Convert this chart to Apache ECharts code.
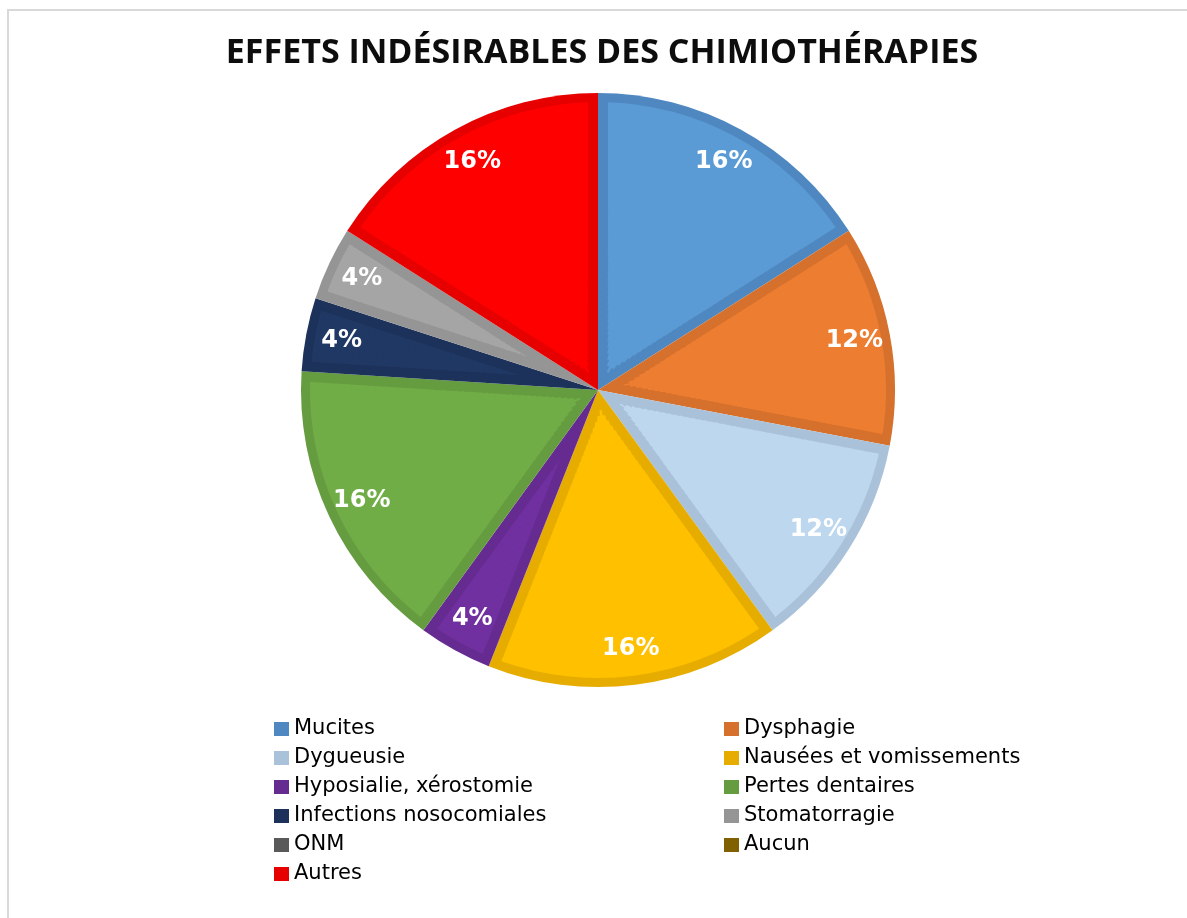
<!DOCTYPE html>
<html>
<head>
<meta charset="utf-8">
<title>Effets indésirables des chimiothérapies</title>
<script src="https://cdn.jsdelivr.net/npm/echarts@6/dist/echarts.min.js"></script>
<style>
    html, body { margin: 0; padding: 0; background: #ffffff; }
    #chart { width: 1187px; height: 918px; }
</style>
</head>
<body>
<div id="chart"></div>
<script>
    const categories = ['Mucites', 'Dysphagie', 'Dygueusie', 'Nausées et vomissements', 'Hyposialie, xérostomie',
        'Pertes dentaires', 'Infections nosocomiales', 'Stomatorragie', 'ONM', 'Aucun', 'Autres'];
    const percents = [16, 12, 12, 16, 4, 16, 4, 4, 0, 0, 16];
    const legendLeft = ['Mucites', 'Dygueusie', 'Hyposialie, xérostomie', 'Infections nosocomiales', 'ONM', 'Autres'];
    const legendRight = ['Dysphagie', 'Nausées et vomissements', 'Pertes dentaires', 'Stomatorragie', 'Aucun'];

    const fillColors = ['#5B9BD5', '#ED7D31', '#BDD7EE', '#FFC000', '#7030A0', '#70AD47', '#203864', '#A5A5A5', '#636363', '#8E6A00', '#FF0000'];
    const edgeColors = ['#4F88C1', '#D5712C', '#AAC2D9', '#E6AD00', '#652B90', '#659C40', '#1D325A', '#959595', '#595959', '#806000', '#E60000'];

    const center = [598, 390];
    const R = 297;
    const inset = 10; // width of the darker outline band

    const total = percents.reduce((a, b) => a + b, 0);

    const chart = echarts.init(document.getElementById('chart'));

    const common = {
        type: 'pie',
        center: center,
        startAngle: 90,
        clockwise: true,
        silent: true,
        emphasis: {disabled: true},
        labelLine: {show: false},
        label: {show: false}
    };

    // the lighter fill is drawn as thin rings, each with its own angular gap,
    // so the darker band keeps a near constant width along the radial edges
    function lightRing(r0, r1) {
        const rm = (r0 + r1) / 2;
        const half = Math.asin(Math.min(1, inset / rm));
        const gapVal = (2 * half) / (2 * Math.PI) * total;
        const data = [];
        categories.forEach((name, i) => {
            const v = percents[i];
            const g = Math.min(v, gapVal);
            data.push({value: g / 2, itemStyle: {color: 'transparent'}});
            data.push({name: name, value: v - g, itemStyle: {color: fillColors[i], borderWidth: 0}});
            data.push({value: g / 2, itemStyle: {color: 'transparent'}});
        });
        return Object.assign({}, common, {radius: [r0, r1 + 1], data: data});
    }

    const rings = [];
    const rOuter = R - inset;
    for (let r = 20; r < rOuter; r += 6) {
        rings.push(lightRing(r, Math.min(r + 6, rOuter)));
    }

    const legendStyle = {
        orient: 'vertical',
        top: 718,
        padding: 0,
        itemWidth: 15,
        itemHeight: 14,
        itemGap: 7,
        icon: 'rect',
        textStyle: {
            fontFamily: 'DejaVu Sans',
            fontSize: 21,
            lineHeight: 22,
            color: '#000000'
        }
    };

    const option = {
        animation: false,
        title: {
            text: 'EFFETS INDÉSIRABLES DES CHIMIOTHÉRAPIES',
            left: 597,
            top: 31,
            textAlign: 'center',
            textStyle: {
                fontFamily: 'Open Sans',
                fontWeight: 'bold',
                fontSize: 34,
                color: '#0d0d0d'
            }
        },
        legend: [
            Object.assign({left: 274, data: legendLeft}, legendStyle),
            Object.assign({left: 724, data: legendRight}, legendStyle)
        ],
        graphic: [{
            type: 'rect',
            silent: true,
            shape: {x: 8, y: 10, width: 1400, height: 1200},
            style: {fill: 'none', stroke: '#d9d9d9', lineWidth: 2}
        }],
        series: [
            // darker outline band (full slices)
            Object.assign({}, common, {
                radius: [0, R],
                itemStyle: {borderWidth: 0},
                data: categories.map((name, i) => ({
                    name: name,
                    value: percents[i],
                    itemStyle: {color: edgeColors[i]}
                }))
            })
        ].concat(rings, [
            // percentage labels only
            Object.assign({}, common, {
                radius: [219, R],
                itemStyle: {color: 'transparent', borderWidth: 0},
                label: {
                    show: true,
                    position: 'inside',
                    formatter: p => p.value ? p.value + '%' : '',
                    fontFamily: 'DejaVu Sans',
                    fontWeight: 'bold',
                    fontSize: 24,
                    color: '#ffffff'
                },
                data: categories.map((name, i) => ({name: name, value: percents[i]}))
            })
        ])
    };

    chart.setOption(option);
</script>
</body>
</html>
